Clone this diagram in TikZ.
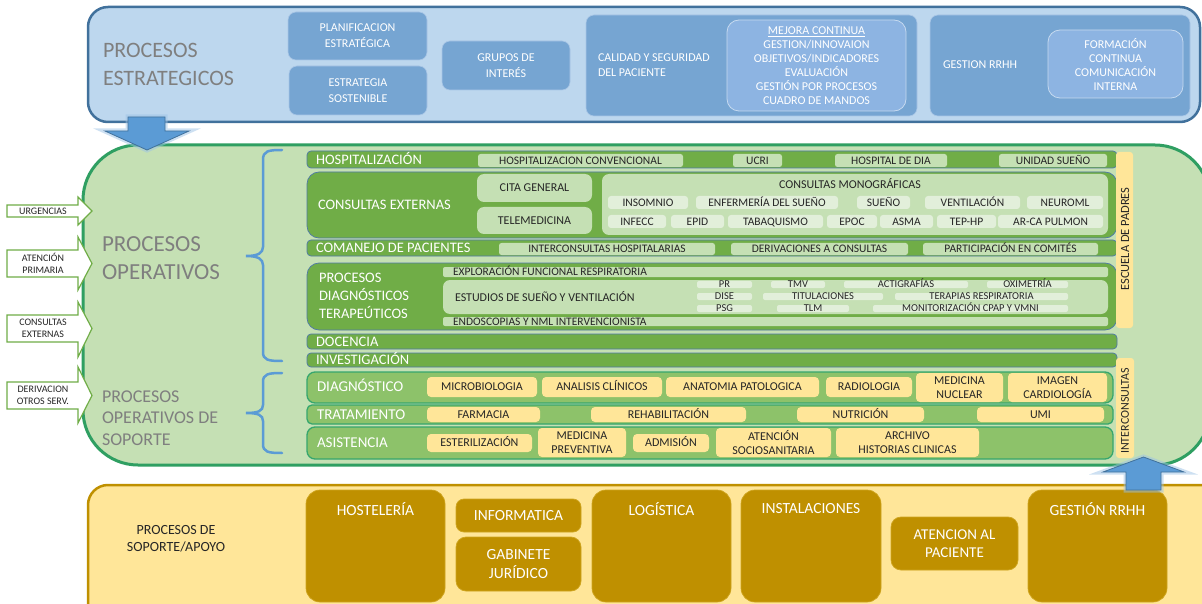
\documentclass[tikz,border=0pt]{standalone}
\usepackage{fontspec}
\setmainfont{Carlito}
\definecolor{cTopFill}{HTML}{BDD7EE}
\definecolor{cTopLine}{HTML}{41719C}
\definecolor{cTbox}{HTML}{76A5D2}
\definecolor{cTboxLine}{HTML}{A9C6E6}
\definecolor{cTinner}{HTML}{8DB4E2}
\definecolor{cTinnerLine}{HTML}{C6DAF0}
\definecolor{cGray}{HTML}{7F7F7F}
\definecolor{cMidFill}{HTML}{C5E0B4}
\definecolor{cMidLine}{HTML}{2F9F62}
\definecolor{cDark}{HTML}{70AD47}
\definecolor{cBarLine}{HTML}{4F78A8}
\definecolor{cLight}{HTML}{E2EFDA}
\definecolor{cSbar}{HTML}{8DC26A}
\definecolor{cSLine}{HTML}{36A66E}
\definecolor{cYellow}{HTML}{FFE699}
\definecolor{cGold}{HTML}{BF9000}
\definecolor{cGoldLine}{HTML}{CFA520}
\definecolor{cArrow}{HTML}{5B9BD5}
\definecolor{cArrowLine}{HTML}{41719C}
\definecolor{cGlow}{HTML}{9DC3E6}
\definecolor{cText}{HTML}{262626}
\definecolor{cLArrow}{HTML}{70AD47}
\newcommand\fsz[2]{\fontsize{#1}{#2}\selectfont}
\newcommand\bxn[7]{\node[#6,minimum width={(#4-#2)*1pt},minimum height={(#5-#3)*1pt}] (#1) at ({(#2+#4)/2},{(#3+#5)/2}) {#7};}
\newcommand\larrow[6]{%
  \draw[larr] (7,#2) -- (78,#2) -- (78,#4) -- (92,{(#2+#3)/2}) -- (78,#5) -- (78,#3) -- (7,#3) -- cycle;
  \node[ltext] (#1) at (43,{(#2+#3)/2}) {#6};}
\begin{document}
\begin{tikzpicture}[x=1pt,y=-1pt,
  every node/.style={inner sep=0pt,outer sep=0pt},
  topout/.style={draw=cTopLine,line width=2.5pt,fill=cTopFill,rounded corners=20pt},
  tbox/.style={fill=cTbox,draw=cTboxLine,line width=0.6pt,rounded corners=8pt,text=white,font=\fsz{12}{16},align=center},
  tinner/.style={fill=cTinner,draw=cTinnerLine,line width=0.8pt,rounded corners=12pt,text=white,font=\fsz{12}{14},align=center},
  twhite/.style={text=white,font=\fsz{12}{15}},
  ttitle/.style={text=cGray,font=\fsz{22}{28},align=left,anchor=west},
  midout/.style={fill=cMidFill,draw=cMidLine,line width=3pt,rounded corners=55pt},
  dbar/.style={fill=cDark,draw=cBarLine,line width=0.7pt,rounded corners=4pt},
  dpanel/.style={fill=cDark,draw=cBarLine,line width=0.7pt,rounded corners=12pt},
  dlabel/.style={text=white,font=\fsz{14.5}{18},anchor=west,text height=9.3pt,text depth=0pt},
  ltag/.style={fill=cMidFill,rounded corners=2.5pt,text=cText,font=\fsz{11.5}{13},text height=7.4pt,text depth=0pt},
  mtag/.style={fill=cLight,rounded corners=3pt,text=cText,font=\fsz{11.5}{13},text height=7.4pt,text depth=0pt},
  xtag/.style={fill=cLight,rounded corners=2pt,text=cText,font=\fsz{10.5}{12},text height=6.8pt,text depth=0pt},
  lbox/.style={fill=cMidFill,rounded corners=7pt,text=cText,font=\fsz{12}{14},text height=7.7pt,text depth=0pt},
  lpanel/.style={fill=cMidFill,rounded corners=7pt},
  ttext/.style={text=cText,font=\fsz{11.5}{13},anchor=west,text height=7.4pt,text depth=0pt},
  sbar/.style={fill=cSbar,draw=cSLine,line width=1.3pt,rounded corners=8pt},
  slabel/.style={text=white,font=\fsz{15}{18},anchor=west,text height=9.6pt,text depth=0pt},
  ytag/.style={fill=cYellow,rounded corners=4pt,text=cText,font=\fsz{12}{14},text height=7.7pt,text depth=0pt},
  ytagm/.style={fill=cYellow,rounded corners=4pt,text=cText,font=\fsz{12}{14.5},align=center},
  vtag/.style={fill=cYellow,rounded corners=3pt},
  vtext/.style={text=cText,font=\fsz{12.5}{14},rotate=90},
  larr/.style={fill=white,draw=cLArrow,line width=1.2pt},
  ltext/.style={text=cText,font=\fsz{10}{12.5},align=center},
  brace/.style={draw=cArrow,line width=2.5pt,line cap=round},
  barrow/.style={fill=cArrow,draw=cArrowLine,line width=0.8pt,preaction={draw=cGlow,line width=5pt,draw opacity=0.5}},
  botout/.style={fill=cYellow,draw=cGold,line width=2.5pt,rounded corners=20pt},
  gbox/.style={fill=cGold,draw=cGoldLine,line width=0.7pt,rounded corners=14pt,text=white,font=\fsz{15.5}{19},align=center},
  gtext/.style={text=white,font=\fsz{15.5}{19}},
]
\useasboundingbox (0,0) rectangle (1202,604);
\fill[white] (0,0) rectangle (1202,604);

% ---------------- Strategic ----------------
\bxn{top}{88}{7}{1200}{122}{topout}{}
\node[ttitle] (ptit) at (103,64) {PROCESOS\\ESTRATEGICOS};
\bxn{planif}{288}{12}{427}{60}{tbox}{PLANIFICACION\\ESTRATÉGICA}
\bxn{estsost}{289}{66}{427}{115}{tbox}{ESTRATEGIA\\SOSTENIBLE}
\bxn{grupos}{442}{41}{570}{90}{tbox}{GRUPOS DE\\INTERÉS}
\bxn{calidad}{586}{15}{917}{116}{tbox}{}
\node[twhite,anchor=west,align=left] (calt) at (598,65) {CALIDAD Y SEGURIDAD\\DEL PACIENTE};
\bxn{mejora}{727}{20}{906}{111}{tinner}{\underline{MEJORA CONTINUA}\\GESTION/INNOVAION\\OBJETIVOS/INDICADORES\\EVALUACIÓN\\GESTIÓN POR PROCESOS\\CUADRO DE MANDOS}
\bxn{rrhh}{930}{15}{1190}{116}{tbox}{}
\node[twhite,anchor=west] (rrhht) at (943,65) {GESTION RRHH};
\bxn{form}{1048}{30}{1183}{98}{tinner}{FORMACIÓN\\CONTINUA\\COMUNICACIÓN\\INTERNA}

% ---------------- Operative ----------------
\bxn{mid}{83}{145}{1210}{465}{midout}{}
\node[ttitle,font=\fsz{23}{28}] (opt) at (102,258) {PROCESOS\\OPERATIVOS};
\node[ttitle,font=\fsz{18}{21.5}] (sopt) at (102,418) {PROCESOS\\OPERATIVOS DE\\SOPORTE};

\larrow{urg}{205}{217}{197}{225}{URGENCIAS}
\larrow{aprim}{250}{277}{237}{290}{ATENCIÓN\\PRIMARIA}
\larrow{cexa}{315}{342}{302}{357}{CONSULTAS\\EXTERNAS}
\larrow{deriv}{382}{409}{367}{423}{DERIVACION\\OTROS SERV.}

\draw[brace] (282,150) .. controls (268,150) and (263,151) .. (263,160) -- (263,247)
  .. controls (263,253) and (258,256) .. (246,256) .. controls (258,256) and (263,259) .. (263,265)
  -- (263,352) .. controls (263,360) and (268,361) .. (282,361);
\draw[brace] (282,373) .. controls (268,373) and (263,374) .. (263,382) -- (263,405)
  .. controls (263,411) and (258,413) .. (246,413) .. controls (258,413) and (263,415) .. (263,421)
  -- (263,444) .. controls (263,452) and (268,453) .. (282,453);

% Hospitalizacion
\bxn{hosp}{307}{151}{1117}{168}{dbar}{}
\node[dlabel] (hospl) at (316,159.5) {HOSPITALIZACIÓN};
\bxn{hconv}{478}{154}{683}{167}{ltag}{HOSPITALIZACION CONVENCIONAL}
\bxn{ucri}{733}{154}{782}{167}{ltag}{UCRI}
\bxn{hdia}{835}{154}{947}{167}{ltag}{HOSPITAL DE DIA}
\bxn{usue}{999}{154}{1107}{167}{ltag}{UNIDAD SUEÑO}

% Consultas externas
\bxn{cext}{307}{172}{1117}{238}{dpanel}{}
\node[dlabel] (cextl) at (318,205) {CONSULTAS EXTERNAS};
\bxn{cita}{477}{174}{592}{202}{lbox}{CITA GENERAL}
\bxn{tele}{477}{207}{592}{234}{lbox}{TELEMEDICINA}
\bxn{mono}{602}{174}{1108}{235}{lpanel}{}
\node[text=cText,font=\fsz{12}{14},text height=7.7pt,text depth=0pt] (monot) at (850,185) {CONSULTAS MONOGRÁFICAS};
\bxn{insom}{608}{196}{688}{209}{mtag}{INSOMNIO}
\bxn{enfer}{696}{196}{838}{209}{mtag}{ENFERMERÍA DEL SUEÑO}
\bxn{sueno}{857}{196}{910}{209}{mtag}{SUEÑO}
\bxn{venti}{925}{196}{1020}{209}{mtag}{VENTILACIÓN}
\bxn{neuro}{1027}{196}{1103}{209}{mtag}{NEUROML}
\bxn{infec}{608}{215}{666}{228}{mtag}{INFECC}
\bxn{epid}{671}{215}{724}{228}{mtag}{EPID}
\bxn{tabaq}{728}{215}{823}{228}{mtag}{TABAQUISMO}
\bxn{epoc}{827}{215}{877}{228}{mtag}{EPOC}
\bxn{asma}{880}{215}{933}{228}{mtag}{ASMA}
\bxn{tephp}{937}{215}{996}{228}{mtag}{TEP-HP}
\bxn{arca}{998}{215}{1103}{228}{mtag}{AR-CA PULMON}

% Comanejo
\bxn{coman}{307}{240}{1117}{256}{dbar}{}
\node[dlabel] (comanl) at (316,248) {COMANEJO DE PACIENTES};
\bxn{inter}{499}{243}{715}{255}{ltag}{INTERCONSULTAS HOSPITALARIAS}
\bxn{derc}{731}{243}{908}{255}{ltag}{DERIVACIONES A CONSULTAS}
\bxn{partic}{923}{243}{1098}{255}{ltag}{PARTICIPACIÓN EN COMITÉS}

% Procesos diagnosticos terapeuticos
\bxn{pdt}{307}{263}{1117}{330}{dpanel}{}
\node[text=white,font=\fsz{14.5}{18},anchor=west,align=left] (pdtl) at (319,295.5) {PROCESOS\\DIAGNÓSTICOS\\TERAPEÚTICOS};
\bxn{expl}{443}{267}{1108}{277}{lpanel,rounded corners=2pt}{}
\node[ttext] (explt) at (453,272) {EXPLORACIÓN FUNCIONAL RESPIRATORIA};
\bxn{estud}{443}{280}{1108}{314}{lpanel}{}
\node[ttext,font=\fsz{12}{14},text height=7.7pt] (estudt) at (455,298) {ESTUDIOS DE SUEÑO Y VENTILACIÓN};
\bxn{pr}{697}{281}{752}{288}{xtag}{PR}
\bxn{tmv}{771}{281}{825}{288}{xtag}{TMV}
\bxn{acti}{844}{281}{968}{288}{xtag}{ACTIGRAFÍAS}
\bxn{oxi}{987}{281}{1068}{288}{xtag}{OXIMETRÍA}
\bxn{dise}{697}{293}{752}{300}{xtag}{DISE}
\bxn{titul}{763}{293}{883}{300}{xtag}{TITULACIONES}
\bxn{terap}{895}{293}{1068}{300}{xtag}{TERAPIAS RESPIRATORIA}
\bxn{psg}{697}{305}{752}{312}{xtag}{PSG}
\bxn{tlm}{777}{305}{849}{312}{xtag}{TLM}
\bxn{monit}{873}{305}{1068}{312}{xtag}{MONITORIZACIÓN CPAP Y VMNI}
\bxn{endo}{443}{317}{1108}{326}{lpanel,rounded corners=2pt}{}
\node[ttext] (endot) at (453,321.5) {ENDOSCOPIAS Y NML INTERVENCIONISTA};

% Docencia / Investigacion
\bxn{doc}{307}{334}{1117}{349}{dbar}{}
\node[dlabel] (docl) at (316,341.5) {DOCENCIA};
\bxn{inv}{307}{353}{1117}{367}{dbar}{}
\node[dlabel] (invl) at (316,360) {INVESTIGACIÓN};

% Escuela de padres
\bxn{escu}{1116}{152}{1133}{328}{vtag}{}
\node[vtext] (escut) at (1125,239) {ESCUELA DE PADRES};

% Soporte operativo
\bxn{diag}{307}{372}{1113}{403}{sbar}{}
\node[slabel] (diagl) at (317,387) {DIAGNÓSTICO};
\bxn{micro}{427}{377}{537}{397}{ytag}{MICROBIOLOGIA}
\bxn{anali}{542}{377}{662}{397}{ytag}{ANALISIS CLÍNICOS}
\bxn{anato}{666}{377}{819}{397}{ytag}{ANATOMIA PATOLOGICA}
\bxn{radio}{826}{377}{912}{397}{ytag}{RADIOLOGIA}
\bxn{mednu}{916}{373}{1003}{402}{ytagm}{MEDICINA\\NUCLEAR}
\bxn{imag}{1008}{373}{1107}{402}{ytagm}{IMAGEN\\CARDIOLOGÍA}

\bxn{trat}{307}{405}{1113}{424}{sbar,rounded corners=5pt}{}
\node[slabel] (tratl) at (317,414.5) {TRATAMIENTO};
\bxn{farm}{427}{407}{540}{422}{ytag}{FARMACIA}
\bxn{rehab}{591}{407}{746}{422}{ytag}{REHABILITACIÓN}
\bxn{nutri}{797}{407}{924}{422}{ytag}{NUTRICIÓN}
\bxn{umi}{977}{407}{1104}{422}{ytag}{UMI}

\bxn{asis}{307}{427}{1113}{459}{sbar}{}
\node[slabel] (asisl) at (317,443) {ASISTENCIA};
\bxn{ester}{427}{434}{532}{452}{ytag}{ESTERILIZACIÓN}
\bxn{medpr}{538}{428}{626}{457}{ytagm}{MEDICINA\\PREVENTIVA}
\bxn{admis}{633}{434}{709}{452}{ytag}{ADMISIÓN}
\bxn{atsoc}{716}{428}{831}{457}{ytagm}{ATENCIÓN\\SOCIOSANITARIA}
\bxn{archi}{836}{428}{979}{457}{ytagm}{ARCHIVO\\HISTORIAS CLINICAS}

% Interconsultas
\bxn{intc}{1116}{358}{1134}{458}{vtag}{}
\node[vtext,font=\fsz{12}{14}] (intct) at (1125,411) {INTERCONSULTAS};

% ---------------- Support ----------------
\bxn{bot}{88}{485}{1225}{640}{botout}{}
\node[text=cText,font=\fsz{14}{17},align=center] (bott) at (176,538.5) {PROCESOS DE\\SOPORTE/APOYO};
\bxn{hostel}{306}{490}{445}{602}{gbox}{}
\node[gtext] (hostelt) at (375.5,509) {HOSTELERÍA};
\bxn{info}{456}{499}{581}{532}{gbox,rounded corners=8pt}{INFORMATICA}
\bxn{gabi}{456}{537}{581}{591}{gbox,rounded corners=10pt}{GABINETE\\JURÍDICO}
\bxn{logis}{592}{490}{731}{602}{gbox}{}
\node[gtext] (logist) at (661.5,509) {LOGÍSTICA};
\bxn{insta}{741}{490}{881}{602}{gbox}{}
\node[gtext] (instat) at (811,509) {INSTALACIONES};
\bxn{atpac}{891}{517}{1018}{570}{gbox,rounded corners=10pt,font=\fsz{15}{18}}{ATENCION AL\\PACIENTE}
\bxn{grrhh}{1028}{490}{1167}{602}{gbox}{}
\node[gtext] (grrhht) at (1097.5,509) {GESTIÓN RRHH};

% ---------------- Big arrows ----------------
\draw[barrow] (128,117) -- (165,117) -- (165,131) -- (189,131) -- (147,150) -- (105,131) -- (128,131) -- cycle;
\draw[barrow] (1126,490) -- (1161,490) -- (1161,472) -- (1184,472) -- (1143.5,457) -- (1103,472) -- (1126,472) -- cycle;
\end{tikzpicture}
\end{document}
